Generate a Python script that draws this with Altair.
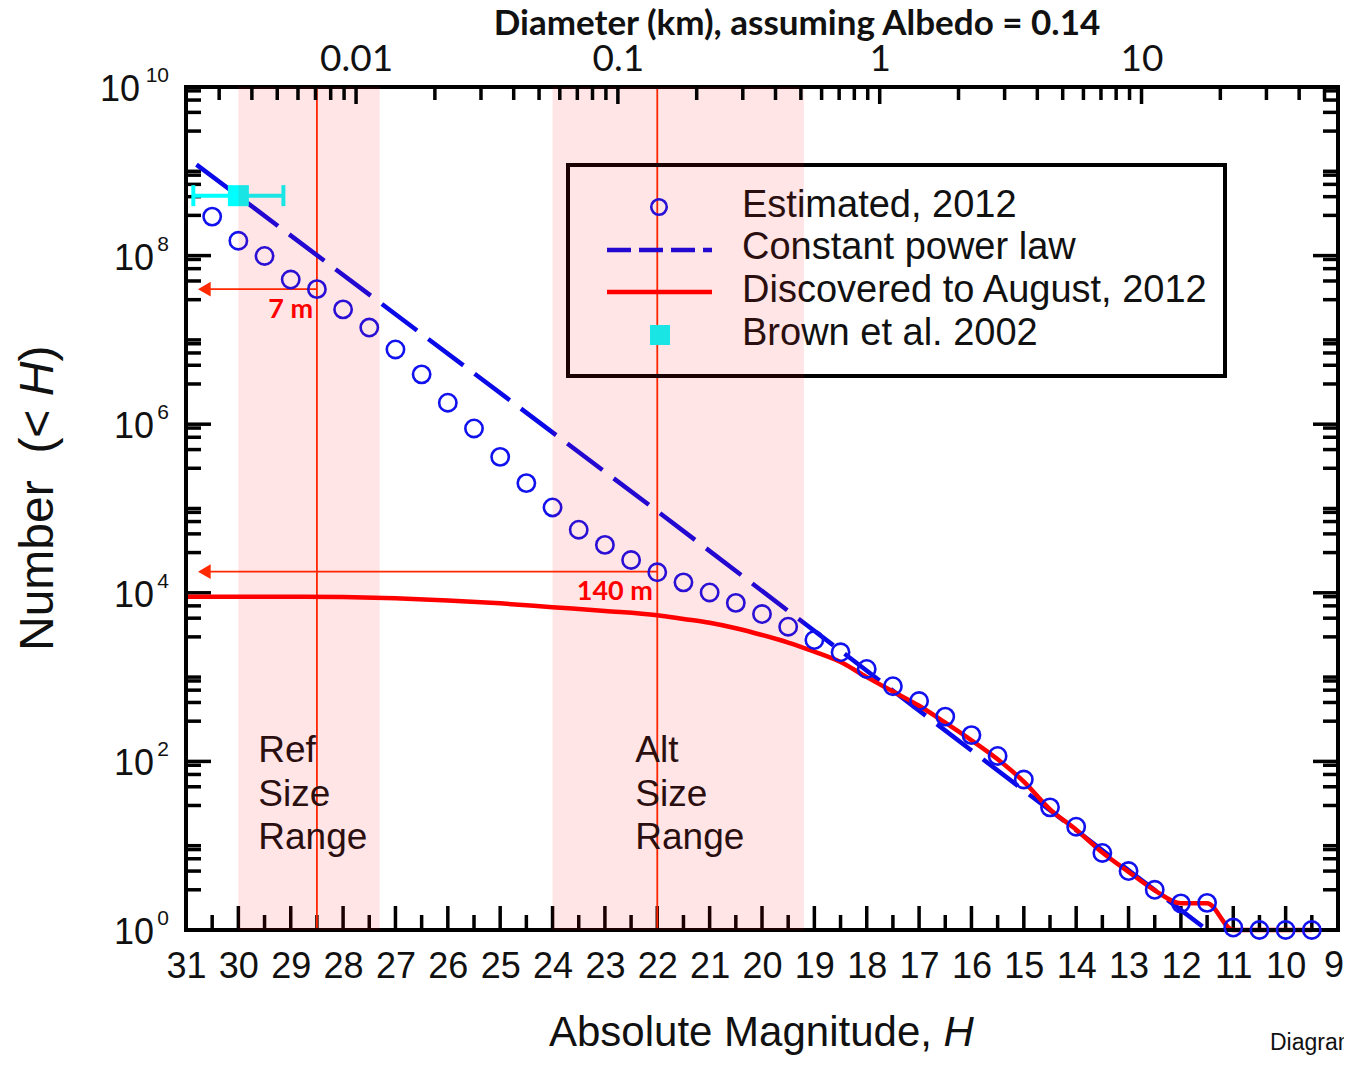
import altair as alt
import pandas as pd

W, HT = 1152, 843

# ---------------- data ----------------
H_EST = [30.5, 30.0, 29.5, 29.0, 28.5, 28.0, 27.5, 27.0, 26.5, 26.0, 25.5, 25.0,
         24.5, 24.0, 23.5, 23.0, 22.5, 22.0, 21.5, 21.0, 20.5, 20.0, 19.5, 19.0,
         18.5, 18.0, 17.5, 17.0, 16.5, 16.0, 15.5, 15.0, 14.5, 14.0, 13.5, 13.0,
         12.5, 12.0, 11.5, 11.0, 10.5, 10.0, 9.5]
N_EST = [2.9e8, 1.5e8, 9.9e7, 5.2e7, 4.0e7, 2.3e7, 1.4e7, 7.7e6, 3.9e6, 1.8e6,
         8.9e5, 4.1e5, 2.0e5, 1.03e5, 5.6e4, 3.7e4, 2.45e4, 1.75e4, 1.33e4, 1.01e4,
         7.6e3, 5.6e3, 3.96e3, 2.75e3, 1.97e3, 1.25e3, 780, 520, 340, 205, 116, 61,
         28.5, 16.8, 8.2, 5.0, 3.0, 2.07, 2.1, 1.07, 1.0, 1.0, 1.0]

H_DISC = [31, 30, 29, 28, 27, 26, 25, 24, 23, 22, 21.5, 21, 20.5, 20, 19.5, 19,
          18.5, 18, 17.5, 17, 16.5, 16, 15.5, 15, 14.5, 14, 13.5, 13, 12.5, 12,
          11.5, 11, 10.5, 10, 9.5]
N_DISC = [9000, 9000, 9000, 8900, 8600, 8130, 7500, 6760, 6100, 5430, 4900, 4410,
          3800, 3160, 2570, 2000, 1510, 1000, 676, 457, 288, 178, 106, 57.5, 27,
          15.5, 8.3, 4.9, 2.95, 2.07, 2.07, 1, 1, 1, 1]

H_POW = [30.8, 22.0, 11.5]
N_POW = [1.2e9, 9.3e4, 1.0]

BROWN_H = [30.0]
BROWN_N = [5.14e8]
BROWN_H_LO = [30.86]
BROWN_H_HI = [29.14]

BANDS_H1 = [30.0, 24.0]
BANDS_H2 = [27.3, 19.2]
REF_LINES_H = [28.5, 22.0]
ARROW_N = [4.0e7, 1.78e4]
ARROW_TIP_H = [30.65, 30.65]

SIZE_LABELS = ["7 m", "140 m"]
SIZE_LABEL_H = [29.0, 22.81]
SIZE_LABEL_N = [1.82e7, 8.2e3]

BAND_WORDS = ["Ref", "Size", "Range", "Alt", "Size", "Range"]
BAND_WORD_H = [29.62, 29.62, 29.62, 22.42, 22.42, 22.42]
BAND_WORD_N = [98, 29.6, 9.1, 98, 29.6, 9.1]

LEGEND_LABELS = ["Estimated, 2012", "Constant power law",
                 "Discovered to August, 2012", "Brown et al. 2002"]

ALBEDO = 0.14
X_TICKS = list(range(31, 8, -1))
X_LABELS_AXIS = [h for h in X_TICKS if h > 9]   # last label "9" drawn separately
X_LABEL_LAST = [9]
X_MINOR = [h + 0.5 for h in range(9, 31)]
Y_LABEL_VALUES = [1e0, 1e2, 1e4, 1e6, 1e8, 1e10]
Y_LABEL_EXP = ["0", "2", "4", "6", "8", "10"]
Y_MINOR = sorted([10.0 ** e for e in (1, 3, 5, 7, 9)] +
                 [k * 10.0 ** e for e in range(0, 10) for k in (3, 5, 7, 9)])
D_TICKS = [0.01, 0.1, 1, 10]


# top axis: diameter in km for the H range of the plot
def diam(h):
    return 1329.0 / ALBEDO ** 0.5 * 10 ** (-h / 5.0)


D_MIN, D_MAX = diam(31), diam(9)
D_MINOR = [k * 10.0 ** e for e in range(-3, 2) for k in range(2, 10)
           if D_MIN <= k * 10.0 ** e <= D_MAX]

FONT = "Liberation Sans"
BLUE = "#1212ee"
DBLUE = "#0a0ae8"
RED = "#ff0000"
LRED = "#ff2a00"
CYAN = "#00ffff"
INK = "#111111"

# ---------------- scales / shared encodings ----------------
xs = alt.Scale(domain=[31, 9], nice=False, zero=False)
ys = alt.Scale(type="log", domain=[1, 1e10], nice=False)

xaxis = alt.Axis(orient="bottom", values=X_LABELS_AXIS, format="d", title=None,
                 labelFont=FONT, labelFontSize=36, labelColor=INK,
                 labelBaseline="alphabetic", labelPadding=47, labelFlush=False,
                 labelOverlap=False, ticks=False, tickSize=0, domain=False, grid=False)

X = alt.X("h:Q", scale=xs, axis=xaxis)
Y = alt.Y("n:Q", scale=ys, axis=None)

one = pd.DataFrame({"k": [0]})


def ptext(text, x, y, size, **kw):
    return alt.Chart(one).mark_text(text=text, fontSize=size, **kw).encode(
        x=alt.value(x), y=alt.value(y))


# ---------------- axis ticks (inward) ----------------
tick_style = dict(color="black", strokeWidth=3.5)
bx_major = alt.Chart(pd.DataFrame({"h": X_TICKS})).mark_rule(**tick_style).encode(
    x=X, y=alt.value(HT), y2=alt.value(HT - 24))
bx_minor = alt.Chart(pd.DataFrame({"h": X_MINOR})).mark_rule(**tick_style).encode(
    x=X, y=alt.value(HT), y2=alt.value(HT - 15))
ly_major = alt.Chart(pd.DataFrame({"n": Y_LABEL_VALUES})).mark_rule(**tick_style).encode(
    y=Y, x=alt.value(0), x2=alt.value(25))
ly_minor = alt.Chart(pd.DataFrame({"n": Y_MINOR})).mark_rule(**tick_style).encode(
    y=Y, x=alt.value(0), x2=alt.value(15))
ry_major = alt.Chart(pd.DataFrame({"n": Y_LABEL_VALUES})).mark_rule(**tick_style).encode(
    y=Y, x=alt.value(W), x2=alt.value(W - 25))
ry_minor = alt.Chart(pd.DataFrame({"n": Y_MINOR})).mark_rule(**tick_style).encode(
    y=Y, x=alt.value(W), x2=alt.value(W - 15))

# last bottom label, nudged so it stays on the page
x_last = alt.Chart(pd.DataFrame({"h": X_LABEL_LAST})).mark_text(
    font=FONT, fontSize=36, color=INK, align="center", baseline="alphabetic", dx=-4
).encode(x=X, y=alt.value(HT + 47), text="h:Q")

# y tick labels: "10" with a raised exponent
ylab = pd.DataFrame({"n": Y_LABEL_VALUES, "e": Y_LABEL_EXP})
ybase = alt.Chart(ylab).transform_filter("datum.n < 1e10").mark_text(
    text="10", font=FONT, fontSize=36, color=INK, align="right", baseline="middle", dy=3
).encode(y=Y, x=alt.value(-32))
ybase10 = alt.Chart(ylab).transform_filter("datum.n >= 1e10").mark_text(
    text="10", font=FONT, fontSize=36, color=INK, align="right", baseline="middle", dy=3
).encode(y=Y, x=alt.value(-46))
exps = alt.Chart(ylab).mark_text(
    font=FONT, fontSize=21, color=INK, align="right", baseline="middle", dy=-11
).encode(y=Y, x=alt.value(-17), text="e:N")

# ---------------- data layers ----------------
vlines = alt.Chart(pd.DataFrame({"h": REF_LINES_H})).mark_rule(
    color=LRED, strokeWidth=1.8).encode(x=X)

arrows = alt.Chart(pd.DataFrame({"h": REF_LINES_H, "h2": ARROW_TIP_H, "n": ARROW_N})).mark_rule(
    color=LRED, strokeWidth=1.8).encode(x=X, x2=alt.X2("h2"), y=Y)
heads = alt.Chart(pd.DataFrame({"h": ARROW_TIP_H, "n": ARROW_N})).mark_point(
    shape="triangle-left", filled=True, size=215, color=LRED, opacity=1).encode(x=X, y=Y)

power = alt.Chart(pd.DataFrame({"h": H_POW, "n": N_POW})).mark_line(
    color=DBLUE, strokeWidth=4.5, strokeDash=[44, 14]).encode(x=X, y=Y)

disc = alt.Chart(pd.DataFrame({"h": H_DISC, "n": N_DISC})).mark_line(
    color=RED, strokeWidth=4.5, interpolate="monotone").encode(x=X, y=Y)

frame = alt.Chart(one).mark_rect(fillOpacity=0, stroke="black", strokeWidth=4).encode(
    x=alt.value(0), x2=alt.value(W), y=alt.value(0), y2=alt.value(HT))

est = alt.Chart(pd.DataFrame({"h": H_EST, "n": N_EST})).mark_point(
    shape="circle", filled=False, size=300, strokeWidth=2.6, color=BLUE, opacity=1
).encode(x=X, y=Y)

ebar = alt.Chart(pd.DataFrame({"h": BROWN_H_LO, "h2": BROWN_H_HI, "n": BROWN_N})).mark_rule(
    color=CYAN, strokeWidth=4).encode(x=X, x2=alt.X2("h2"), y=Y)
ecaps = alt.Chart(pd.DataFrame({"h": BROWN_H_LO + BROWN_H_HI, "n": BROWN_N * 2})).mark_tick(
    color=CYAN, orient="vertical", size=21, thickness=4, opacity=1).encode(x=X, y=Y)
brown = alt.Chart(pd.DataFrame({"h": BROWN_H, "n": BROWN_N})).mark_square(
    color=CYAN, size=441, opacity=1).encode(x=X, y=Y)

size_lbl = alt.Chart(pd.DataFrame({"h": SIZE_LABEL_H, "n": SIZE_LABEL_N, "t": SIZE_LABELS})).mark_text(
    font="Lato", fontWeight="bold", fontSize=27, color=RED, align="center", baseline="alphabetic"
).encode(x=X, y=Y, text="t:N")

band_lbl = alt.Chart(pd.DataFrame({"h": BAND_WORD_H, "n": BAND_WORD_N, "t": BAND_WORDS})).mark_text(
    font=FONT, fontSize=37, color=INK, align="left", baseline="alphabetic"
).encode(x=X, y=Y, text="t:N")

# ---------------- legend (drawn box) ----------------
leg_box = alt.Chart(one).mark_rect(fillOpacity=0, stroke="black", strokeWidth=4).encode(
    x=alt.value(382), x2=alt.value(1039), y=alt.value(78), y2=alt.value(289))
leg_c = alt.Chart(one).mark_point(shape="circle", filled=False, size=240, strokeWidth=2.6,
                                  color=BLUE, opacity=1).encode(x=alt.value(473), y=alt.value(120))
leg_d = alt.Chart(one).mark_rule(color=DBLUE, strokeWidth=4.5, strokeDash=[24, 8]).encode(
    x=alt.value(421), x2=alt.value(526), y=alt.value(163))
leg_r = alt.Chart(one).mark_rule(color=RED, strokeWidth=4.5).encode(
    x=alt.value(421), x2=alt.value(526), y=alt.value(205))
leg_s = alt.Chart(one).mark_square(color=CYAN, size=400, opacity=1).encode(
    x=alt.value(474), y=alt.value(248))
leg_txt = [ptext(lbl, 556, yy, 38, font=FONT, color=INK, align="left", baseline="alphabetic")
           for lbl, yy in zip(LEGEND_LABELS, [130, 171.5, 214.5, 258])]

# ---------------- shaded ranges (translucent, on top) ----------------
bands = alt.Chart(pd.DataFrame({"h": BANDS_H1, "h2": BANDS_H2})).mark_rect(
    color="#ff0000", opacity=0.1).encode(x=X, x2=alt.X2("h2"), y=alt.value(0), y2=alt.value(HT))

# ---------------- titles ----------------
top_title = ptext("Diameter (km), assuming Albedo = 0.14", 611, -52, 35,
                  font="Lato", fontWeight="bold", color=INK, align="center", baseline="alphabetic")
yt1 = ptext("Number\u00a0\u00a0(<\u00a0", -133, 564, 48, font=FONT, color=INK, angle=270,
            align="left", baseline="alphabetic")
yt2 = ptext("H", -133, 309.3, 48, font=FONT, fontStyle="italic", color=INK, angle=270,
            align="left", baseline="alphabetic")
yt3 = ptext(")", -133, 274.6, 48, font=FONT, color=INK, angle=270,
            align="left", baseline="alphabetic")
xt1 = ptext("Absolute Magnitude,", 363, 959, 42, font=FONT, color=INK,
            align="left", baseline="alphabetic")
xt2 = ptext("H", 757.5, 959, 42, font=FONT, fontStyle="italic", color=INK,
            align="left", baseline="alphabetic")
credit = ptext("Diagram", 1084, 963, 23, font=FONT, color=INK, align="left", baseline="alphabetic")

main = alt.layer(
    bx_major, bx_minor, ly_major, ly_minor, ry_major, ry_minor,
    vlines, arrows, heads, power, disc, frame, est, ebar, ecaps, brown,
    size_lbl, band_lbl,
    leg_box, leg_c, leg_d, leg_r, leg_s, *leg_txt,
    bands, x_last, ybase, ybase10, exps, top_title, yt1, yt2, yt3, xt1, xt2, credit,
)

# ---------------- top axis (diameter, log) ----------------
xd = alt.X("d:Q", scale=alt.Scale(type="log", domain=[D_MIN, D_MAX], nice=False),
           axis=alt.Axis(orient="top", values=D_TICKS, format="~g", title=None,
                         labelFont="Lato", labelFontSize=37, labelColor=INK,
                         labelBaseline="alphabetic", labelPadding=17, labelFlush=False,
                         labelOverlap=False, ticks=False, tickSize=0, domain=False, grid=False))
top_major = alt.Chart(pd.DataFrame({"d": D_TICKS})).mark_rule(**tick_style).encode(
    x=xd, y=alt.value(0), y2=alt.value(17))
top_minor = alt.Chart(pd.DataFrame({"d": D_MINOR})).mark_rule(**tick_style).encode(
    x=xd, y=alt.value(0), y2=alt.value(13))
top = alt.layer(top_major, top_minor)

chart = alt.layer(main, top).resolve_scale(x="independent").properties(
    width=W, height=HT,
    autosize=alt.AutoSizeParams(type="none"),
    padding={"left": 178, "top": 79, "right": 6, "bottom": 125},
).configure_view(strokeWidth=0)

chart.save("out.html", embed_options={"renderer": "svg", "actions": False})
